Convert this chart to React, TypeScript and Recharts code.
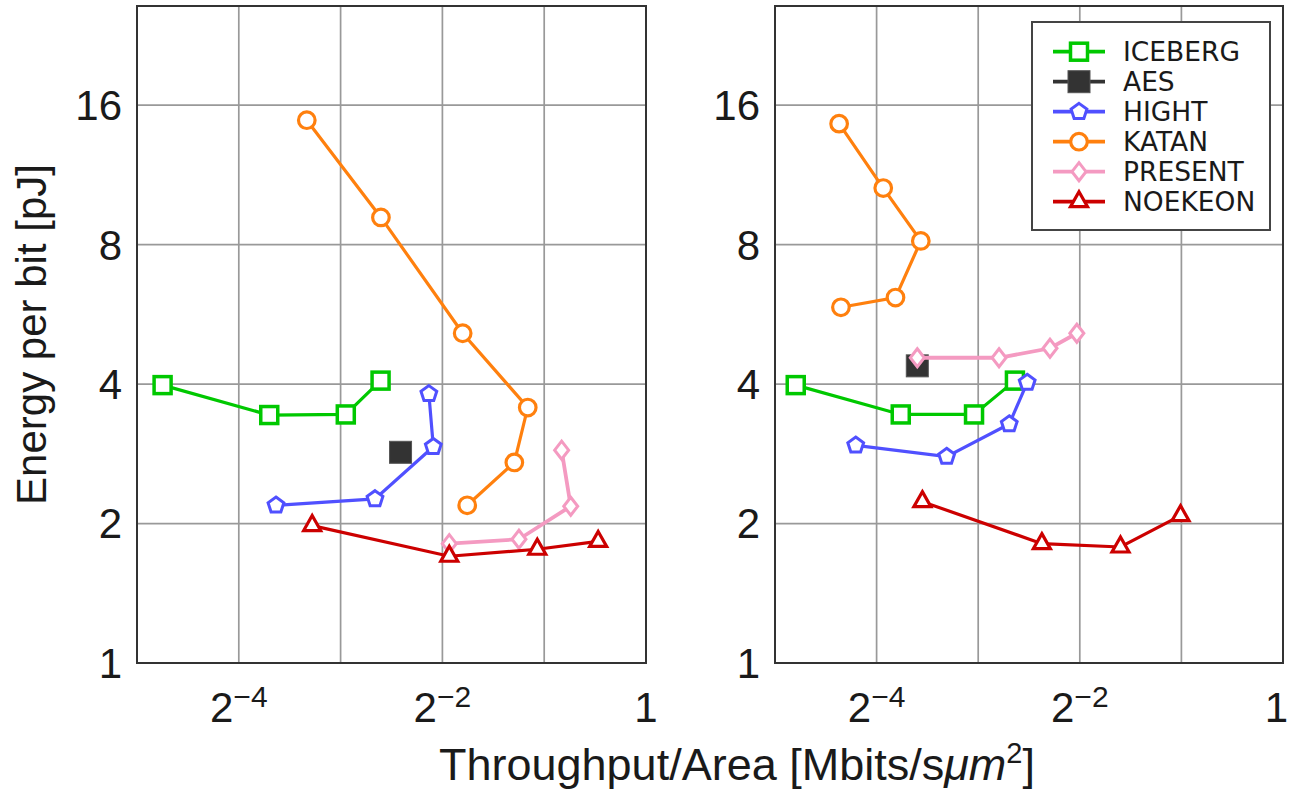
import { ScatterChart, Scatter, XAxis, YAxis, CartesianGrid, ReferenceArea } from 'recharts'

// axis ticks (log2 scales)
const xTicks = [1 / 32, 1 / 16, 1 / 8, 1 / 4, 1 / 2, 1]
const xLabelExps = [-4, -2, 0]
const yTicks = [1, 2, 4, 8, 16]
const yMax = 26.2

const seriesNames = ['ICEBERG', 'AES', 'HIGHT', 'KATAN', 'PRESENT', 'NOEKEON']
const seriesColors = ['#00c800', '#333333', '#5050ff', '#ff800e', '#f49ac1', '#cc0000']
const seriesMarks = ['square', 'filled', 'pentagon', 'circle', 'diamond', 'triangle']

// left panel: [throughput/area, energy per bit]
const icebergL = [[0.0372, 3.98], [0.0769, 3.43], [0.1295, 3.44], [0.1641, 4.07]]
const aesL = [[0.188, 2.85]]
const hightL = [[0.0805, 2.19], [0.158, 2.26], [0.235, 2.93], [0.228, 3.81]]
const katanL = [[0.0993, 14.85], [0.1645, 9.16], [0.287, 5.15], [0.447, 3.56], [0.408, 2.71], [0.296, 2.19]]
const presentL = [[0.262, 1.81], [0.421, 1.85], [0.599, 2.18], [0.563, 2.88]]
const noekeonL = [[0.103, 1.98], [0.262, 1.7], [0.477, 1.76], [0.722, 1.83]]

// right panel
const icebergR = [[0.036, 3.98], [0.0737, 3.44], [0.1215, 3.44], [0.1606, 4.07]]
const aesR = [[0.0825, 4.38]]
const hightR = [[0.0542, 2.95], [0.1008, 2.79], [0.1545, 3.28], [0.1746, 4.03]]
const katanR = [[0.0484, 14.6], [0.0654, 10.6], [0.0845, 8.15], [0.0711, 6.15], [0.049, 5.86]]
const presentR = [[0.0825, 4.56], [0.1441, 4.56], [0.204, 4.78], [0.245, 5.15]]
const noekeonR = [[0.0854, 2.23], [0.193, 1.81], [0.33, 1.78], [0.497, 2.08]]

const leftSeries = [icebergL, aesL, hightL, katanL, presentL, noekeonL]
const rightSeries = [icebergR, aesR, hightR, katanR, presentR, noekeonR]

const axisFont = "'Liberation Sans', Arial, sans-serif"
const textColor = '#1a1a1a'

function Marker({ kind, cx, cy, color }: { kind: string; cx: number; cy: number; color: string }) {
  if (cx == null || cy == null) return null
  switch (kind) {
    case 'square':
      return <rect x={cx - 8.5} y={cy - 8.5} width={17} height={17} fill="#fff" stroke={color} strokeWidth={3.5} />
    case 'filled':
      return <rect x={cx - 11} y={cy - 11} width={22} height={22} fill={color} stroke="#555" strokeWidth={1} />
    case 'pentagon': {
      const r = 8.3
      const pts = [0, 1, 2, 3, 4]
        .map((i) => {
          const a = -Math.PI / 2 + (i * 2 * Math.PI) / 5
          return `${cx + r * Math.cos(a)},${cy + r * Math.sin(a)}`
        })
        .join(' ')
      return <polygon points={pts} fill="#fff" stroke={color} strokeWidth={3} />
    }
    case 'circle':
      return <circle cx={cx} cy={cy} r={8.3} fill="#fff" stroke={color} strokeWidth={3.2} />
    case 'diamond':
      return (
        <polygon
          points={`${cx},${cy - 9} ${cx + 7},${cy} ${cx},${cy + 9} ${cx - 7},${cy}`}
          fill="#fff"
          stroke={color}
          strokeWidth={3}
        />
      )
    case 'triangle':
      return (
        <polygon
          points={`${cx},${cy - 10} ${cx + 8.5},${cy + 5} ${cx - 8.5},${cy + 5}`}
          fill="#fff"
          stroke={color}
          strokeWidth={3.2}
        />
      )
  }
  return null
}

function XTick({ x, y, payload, maxX }: any) {
  const e = Math.round(Math.log2(payload.value))
  if (!xLabelExps.includes(e)) return <g />
  // keep the last label inside the picture
  const atEdge = maxX != null && x + 12 > maxX
  return (
    <text
      x={atEdge ? maxX - 1 : x}
      y={y + 59}
      textAnchor={atEdge ? 'end' : 'middle'}
      fontFamily={axisFont}
      fontSize={42}
      fill={textColor}
    >
      {e === 0 ? (
        '1'
      ) : (
        <>
          2<tspan dy={-15} fontSize={30}>{'\u2212' + -e}</tspan>
        </>
      )}
    </text>
  )
}

function Panel({
  data,
  width,
  yAxisWidth,
  marginRight,
  yLabel,
}: {
  data: number[][][]
  width: number
  yAxisWidth: number
  marginRight: number
  yLabel?: string
}) {
  return (
    <ScatterChart width={width} height={793} margin={{ top: 6, right: marginRight, left: 0, bottom: 0 }}>
      <CartesianGrid stroke="#999" strokeWidth={1.7} />
      <XAxis
        type="number"
        dataKey="x"
        scale="log"
        domain={[1 / 32, 1]}
        ticks={xTicks}
        interval={0}
        allowDataOverflow
        axisLine={false}
        tickLine={false}
        tickSize={0}
        tickMargin={0}
        height={130}
        tick={<XTick maxX={width} />}
      />
      <YAxis
        type="number"
        dataKey="y"
        scale="log"
        domain={[1, yMax]}
        ticks={yTicks}
        interval={0}
        allowDataOverflow
        axisLine={false}
        tickLine={false}
        tickSize={0}
        tickMargin={15}
        width={yAxisWidth}
        tick={{ fontSize: 42, fill: textColor, fontFamily: axisFont }}
        label={
          yLabel
            ? {
                value: yLabel,
                angle: -90,
                position: 'insideLeft',
                offset: 31,
                style: { textAnchor: 'middle', fontSize: 42, fill: textColor, fontFamily: axisFont },
              }
            : undefined
        }
      />
      <ReferenceArea x1={1 / 32} x2={1} y1={1} y2={yMax} fill="none" stroke="#333" strokeWidth={2} ifOverflow="visible" />
      {data.map((pts, i) => (
        <Scatter
          key={seriesNames[i]}
          name={seriesNames[i]}
          data={pts.map(([x, y]) => ({ x, y }))}
          line={{ stroke: seriesColors[i], strokeWidth: i === 4 ? 3.8 : 3.2 }}
          isAnimationActive={false}
          shape={(p: any) => <Marker kind={seriesMarks[i]} cx={p.cx} cy={p.cy} color={seriesColors[i]} />}
        />
      ))}
    </ScatterChart>
  )
}

function LegendBox() {
  const left = 1032
  const top = 22
  return (
    <g>
      <rect x={left} y={top} width={238} height={208} fill="#fff" stroke="#444" strokeWidth={2} />
      {seriesNames.map((name, i) => {
        const cy = 51.7 + i * 30
        return (
          <g key={name}>
            <line x1={1053} x2={1105} y1={cy} y2={cy} stroke={seriesColors[i]} strokeWidth={3.8} />
            <Marker kind={seriesMarks[i]} cx={1079} cy={cy} color={seriesColors[i]} />
            <text x={1123} y={cy + 9.5} fontSize={26.5} fontFamily="'DejaVu Sans', sans-serif" fill={textColor}>
              {name}
            </text>
          </g>
        )
      })}
    </g>
  )
}

export default function App() {
  return (
    <div style={{ position: 'absolute', left: 0, top: 0, width: 1289, height: 793, background: '#fff', overflow: 'hidden' }}>
      <div style={{ position: 'absolute', left: 0, top: 0 }}>
        <Panel data={leftSeries} width={660} yAxisWidth={137} marginRight={14} yLabel="Energy per bit [pJ]" />
      </div>
      <div style={{ position: 'absolute', left: 660, top: 0 }}>
        <Panel data={rightSeries} width={629} yAxisWidth={115} marginRight={6} />
      </div>
      <svg width={1289} height={793} style={{ position: 'absolute', left: 0, top: 0, pointerEvents: 'none' }}>
        <LegendBox />
        <text x={737} y={780} textAnchor="middle" fontSize={45} fontFamily={axisFont} fill={textColor}>
          Throughput/Area [Mbits/s
          <tspan fontStyle="italic">μm</tspan>
          <tspan dy={-17} fontSize={29}>2</tspan>
          <tspan dy={17}>]</tspan>
        </text>
      </svg>
    </div>
  )
}
